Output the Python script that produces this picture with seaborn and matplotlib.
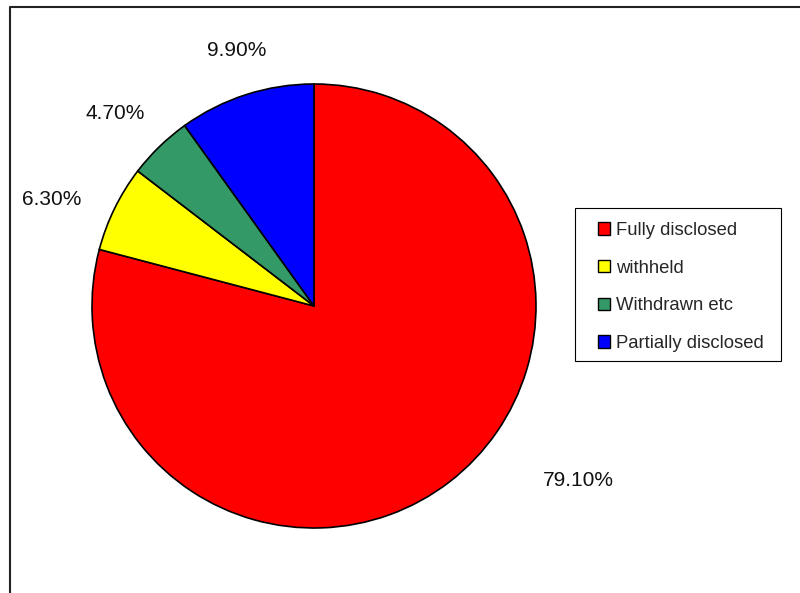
import matplotlib
matplotlib.use("Agg")
import matplotlib.pyplot as plt
from matplotlib.patches import Patch, Rectangle
from matplotlib.lines import Line2D
import numpy as np
import seaborn as sns

# Disclosure outcomes (percent of requests)
categories = ["Fully disclosed", "withheld", "Withdrawn etc", "Partially disclosed"]
shares = [79.1, 6.3, 4.7, 9.9]
colors = ["#FF0000", "#FFFF00", "#339966", "#0000FF"]

sns.set_theme(style="white")
plt.rcParams["font.family"] = ["Liberation Sans", "DejaVu Sans"]

W, H = 800, 593
fig = plt.figure(figsize=(W / 100, H / 100), dpi=100)
ax = fig.add_axes([0, 0, 1, 1])

cx, cy, r = 314, H - 306, 222
wedges, _ = ax.pie(
    shares, colors=colors, startangle=90, counterclock=False,
    center=(cx, cy), radius=r, frame=True,
    wedgeprops=dict(edgecolor="black", linewidth=1.2),
)
ax.set_xlim(0, W)
ax.set_ylim(0, H)
ax.axis("off")

# Value labels outside the pie: (angle shift in degrees, distance as radius factor)
label_layout = [(19.0, 1.428), (3.9, 1.275), (1.8, 1.248), (-1.1, 1.204)]
for w, v, (shift, fac) in zip(wedges, shares, label_layout):
    mid = np.deg2rad((w.theta1 + w.theta2) / 2 + shift)
    ax.text(cx + fac * r * np.cos(mid), cy + fac * r * np.sin(mid),
            f"{v:.2f}%", ha="center", va="center", fontsize=15, color="#111111")

# Legend box drawn separately so its padding can be set exactly
fig.add_artist(Rectangle((575 / W, 1 - 361 / H), (781 - 575) / W, (361 - 208) / H,
                         transform=fig.transFigure, facecolor="white",
                         edgecolor="black", linewidth=0.8, zorder=2))
handles = [Patch(facecolor=c, edgecolor="black", linewidth=1.0) for c in colors]
leg = fig.legend(
    handles, categories, loc="upper left",
    bbox_to_anchor=(598 / W, 1 - 222 / H), bbox_transform=fig.transFigure,
    fontsize=13.3, frameon=False,
    handlelength=0.65, handleheight=0.65, handletextpad=0.3,
    labelspacing=1.12, borderpad=0, borderaxespad=0,
)
leg.set_zorder(3)

# Outer frame lines along the top and left edges
fig.add_artist(Line2D([9.5 / W, 9.5 / W, 1.0], [0.0, 1 - 7 / H, 1 - 7 / H],
                      transform=fig.transFigure, color="#222222", linewidth=1.5))

fig.savefig("out.png", dpi=100)
